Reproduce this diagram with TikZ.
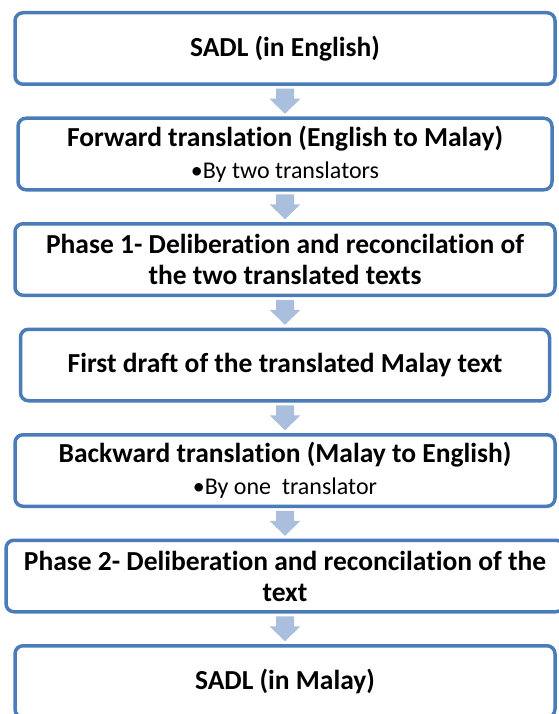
\documentclass[tikz,border=0pt]{standalone}
\usepackage{fontspec}
\setmainfont{Carlito}[Ligatures={NoCommon,NoContextual}]
\usetikzlibrary{positioning,calc}

\definecolor{boxblue}{RGB}{74,124,184}
\definecolor{arrowblue}{RGB}{170,190,221}

\begin{document}
\begin{tikzpicture}[x=1pt, y=1pt, node distance=30.5pt,
  every node/.style = {font=\bfseries\fontsize{27.5}{31}\selectfont},
  stage/.style = {shape=rectangle, rounded corners=8pt,
    draw=boxblue, line width=3.5pt, fill=white, align=center,
    minimum width=540pt, minimum height=71.5pt, inner sep=0pt},
  flow/.style = {fill=arrowblue, draw=none}]
  \useasboundingbox (0,0) rectangle (558,-714);
  \node[stage] (sadlen) at (285,-48.5) {SADL (in English)};
  \node[stage, below=of sadlen, minimum width=534pt] (fwd)
    {Forward translation (English to Malay)\\[1pt]
     {\mdseries\fontsize{24}{28}\selectfont \textbullet By two translators}};
  \node[stage, below=of fwd] (phaseone)
    {Phase 1- Deliberation and reconcilation of\\
     the two translated texts};
  \node[stage, below=of phaseone, minimum width=529pt] (draft)
    {First draft of the translated Malay text};
  \node[stage, below=of draft] (bwd)
    {Backward translation (Malay to English)\\[1pt]
     {\mdseries\fontsize{24}{28}\selectfont \textbullet By one\ \ translator}};
  \node[stage, below=of bwd, minimum width=558pt] (phasetwo)
    {Phase 2- Deliberation and reconcilation of the\\
     text};
  \node[stage, below=of phasetwo] (sadlms) {SADL (in Malay)};
  % block arrows between the stages
  \foreach \a/\b in {sadlen/fwd, fwd/phaseone, phaseone/draft,
                     draft/bwd, bwd/phasetwo, phasetwo/sadlms}
    \fill[flow] ($(\a.south)!0.5!(\b.north)$) ++(-9,12.5) -- ++(18,0)
      -- ++(0,-10) -- ++(6.5,0) -- ++(-15.5,-15) -- ++(-15.5,15)
      -- ++(6.5,0) -- cycle;
\end{tikzpicture}
\end{document}
